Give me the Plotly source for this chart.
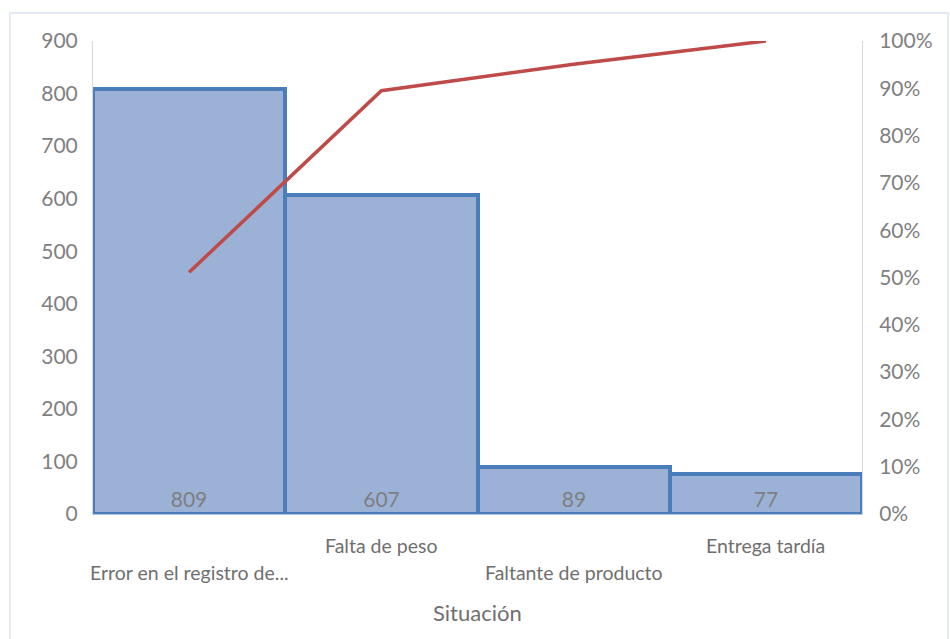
import plotly.graph_objects as go

categories = ["Error en el registro de...", "Falta de peso", "Faltante de producto", "Entrega tardía"]
counts = [809, 607, 89, 77]
cum_pct = [0.511, 0.895, 0.951, 1.0]
label_rows = [2, 1, 2, 1]
axis_title = "Situación"

FONT = "Lato, 'Open Sans', sans-serif"
GRAY = "#7f7f7f"

fig = go.Figure()
fig.add_trace(go.Bar(
    x=categories, y=counts, text=[str(v) for v in counts],
    textposition="inside", insidetextanchor="start",
    textfont=dict(family=FONT, size=21, color=GRAY),
    marker=dict(color="#9bb1d6", line=dict(color="#4a7ebb", width=4)),
    hoverinfo="skip", showlegend=False,
))
fig.add_trace(go.Scatter(
    x=categories, y=cum_pct, yaxis="y2", mode="lines",
    line=dict(color="#be4b48", width=3.5),
    hoverinfo="skip", showlegend=False,
))

annotations = []
for cat, row in zip(categories, label_rows):
    annotations.append(dict(
        x=cat, xref="x", y=0, yref="paper", yanchor="middle",
        yshift=-31 if row == 1 else -58, showarrow=False, text=cat,
        font=dict(family=FONT, size=19.5, color="#6f6f6f"),
    ))
annotations.append(dict(
    x=0.5, xref="paper", y=0, yref="paper", yanchor="middle",
    yshift=-98, showarrow=False, text=axis_title,
    font=dict(family=FONT, size=22, color="#6f6f6f"),
))

fig.update_layout(
    width=950, height=639,
    margin=dict(l=93, r=88, t=41, b=125),
    paper_bgcolor="white", plot_bgcolor="white",
    bargap=0,
    font=dict(family=FONT, color=GRAY),
    xaxis=dict(range=[-0.5, 3.5], showticklabels=False, ticks="",
               showline=True, linecolor="#b4c7e7", linewidth=1,
               showgrid=False, zeroline=False),
    yaxis=dict(range=[0, 900], dtick=100, showgrid=False, zeroline=False,
               showline=True, linecolor="#d9d9d9", linewidth=1,
               ticks="", ticklabelstandoff=10,
               tickfont=dict(family=FONT, size=21, color=GRAY)),
    yaxis2=dict(range=[0, 1], dtick=0.1, tickformat=".0%", overlaying="y",
                side="right", showgrid=False, zeroline=False,
                showline=True, linecolor="#d9d9d9", linewidth=1,
                ticks="", ticklabelstandoff=12,
                tickfont=dict(family=FONT, size=21, color=GRAY)),
    annotations=annotations,
    shapes=[dict(type="rect", xref="paper", yref="paper",
                 x0=-0.108, x1=1.112, y0=-0.4, y1=1.059,
                 line=dict(color="#dce4f0", width=1.5), layer="below")],
)

fig.write_html("out.html")
